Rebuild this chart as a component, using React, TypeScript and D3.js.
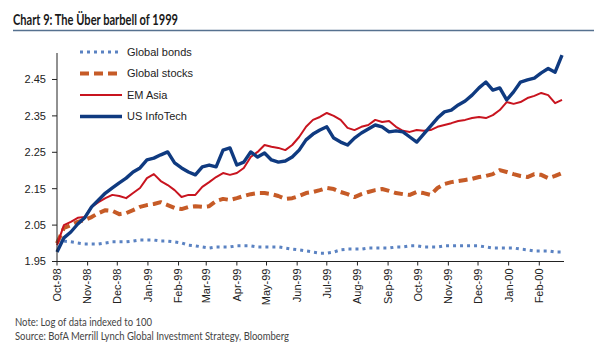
import { line, scaleLinear, scaleTime, timeDay, timeParse } from 'd3'

const chartWidth = 608
const chartHeight = 361

const plot = { left: 57, right: 564, top: 54, bottom: 261.5 }

const startDate = new Date(1998, 9, 1)
const endDate = new Date(2000, 1, 26)

const monthLabels = [
  'Oct-98', 'Nov-98', 'Dec-98', 'Jan-99', 'Feb-99', 'Mar-99', 'Apr-99', 'May-99', 'Jun-99',
  'Jul-99', 'Aug-99', 'Sep-99', 'Oct-99', 'Nov-99', 'Dec-99', 'Jan-00', 'Feb-00',
]

const yTickValues = [1.95, 2.05, 2.15, 2.25, 2.35, 2.45]

// weekly readings, log of data indexed to 100
const globalBonds = [
  2.009, 2.006, 2.004, 2.001, 1.998, 1.998, 1.998, 2.001, 2.004, 2.004, 2.004, 2.006, 2.009, 2.009,
  2.009, 2.006, 2.006, 2.004, 2.001, 1.995, 1.993, 1.99, 1.987, 1.99, 1.99, 1.99, 1.993, 1.993,
  1.993, 1.99, 1.99, 1.99, 1.99, 1.987, 1.984, 1.982, 1.979, 1.976, 1.973, 1.973, 1.976, 1.982,
  1.984, 1.984, 1.984, 1.987, 1.987, 1.987, 1.987, 1.99, 1.99, 1.993, 1.993, 1.99, 1.99, 1.99,
  1.993, 1.993, 1.993, 1.993, 1.993, 1.993, 1.99, 1.987, 1.987, 1.987, 1.987, 1.984, 1.982, 1.979,
  1.979, 1.979, 1.976, 1.976,
]

const globalStocks = [
  2.0, 2.042, 2.05, 2.059, 2.064, 2.072, 2.083, 2.091, 2.089, 2.08, 2.083, 2.091, 2.1, 2.105,
  2.108, 2.113, 2.105, 2.097, 2.094, 2.1, 2.102, 2.1, 2.102, 2.116, 2.122, 2.119, 2.124, 2.13,
  2.135, 2.138, 2.138, 2.135, 2.13, 2.122, 2.124, 2.13, 2.138, 2.141, 2.146, 2.152, 2.149, 2.141,
  2.135, 2.127, 2.135, 2.141, 2.146, 2.149, 2.144, 2.138, 2.135, 2.133, 2.141, 2.138, 2.133, 2.152,
  2.163, 2.168, 2.171, 2.174, 2.177, 2.182, 2.185, 2.19, 2.201, 2.196, 2.19, 2.185, 2.182, 2.19,
  2.188, 2.179, 2.185, 2.193,
]

const emAsia = [
  1.995, 2.05, 2.059, 2.07, 2.072, 2.1, 2.113, 2.124, 2.133, 2.13, 2.124, 2.138, 2.152, 2.179,
  2.19, 2.171, 2.16, 2.146, 2.127, 2.133, 2.133, 2.155, 2.168, 2.182, 2.193, 2.188, 2.193, 2.207,
  2.237, 2.251, 2.27, 2.265, 2.262, 2.256, 2.27, 2.292, 2.32, 2.339, 2.347, 2.358, 2.35, 2.339,
  2.317, 2.311, 2.32, 2.325, 2.339, 2.333, 2.336, 2.32, 2.309, 2.306, 2.311, 2.309, 2.311, 2.32,
  2.325, 2.33, 2.336, 2.339, 2.344, 2.347, 2.344, 2.352, 2.366, 2.388, 2.383, 2.388, 2.399, 2.405,
  2.413, 2.407, 2.385, 2.394,
]

const usInfoTech = [
  1.976, 2.015, 2.031, 2.053, 2.07, 2.1, 2.119, 2.138, 2.152, 2.166, 2.179, 2.196, 2.207, 2.229,
  2.234, 2.243, 2.251, 2.221, 2.207, 2.196, 2.188, 2.21, 2.215, 2.21, 2.256, 2.262, 2.215, 2.223,
  2.251, 2.237, 2.248, 2.229, 2.223, 2.226, 2.237, 2.256, 2.284, 2.3, 2.311, 2.32, 2.289, 2.278,
  2.27, 2.289, 2.303, 2.314, 2.325, 2.32, 2.306, 2.309, 2.306, 2.292, 2.278, 2.3, 2.322, 2.344,
  2.361, 2.366, 2.38, 2.391, 2.407, 2.427, 2.443, 2.421, 2.427, 2.394, 2.416, 2.443, 2.449, 2.454,
  2.468, 2.48, 2.47, 2.517,
]

type Series = {
  name: string
  values: number[]
  color: string
  width: number
  dash?: string
}

const series: Series[] = [
  { name: 'Global bonds', values: globalBonds, color: '#5a82c2', width: 3, dash: '3 4' },
  { name: 'Global stocks', values: globalStocks, color: '#c65b27', width: 4, dash: '9 5' },
  { name: 'EM Asia', values: emAsia, color: '#c8141f', width: 2 },
  { name: 'US InfoTech', values: usInfoTech, color: '#0f3a80', width: 3.4 },
]

const sansFont = '"Liberation Sans", Arial, sans-serif'
const noteFont = 'Lato, "Open Sans", sans-serif'

function App() {
  const xScale = scaleTime().domain([startDate, endDate]).range([plot.left, plot.right])
  const yScale = scaleLinear().domain([1.95, 2.52]).range([plot.bottom, plot.top])

  const parseMonth = timeParse('%b-%y')
  const monthTicks = monthLabels.map((label) => ({ label, date: parseMonth(label) as Date }))

  const weekDate = (index: number) => timeDay.offset(startDate, index * 7)

  const seriesLine = line<number>()
    .x((_, index) => xScale(weekDate(index)))
    .y((value) => yScale(value))

  return (
    <svg
      width={chartWidth}
      height={chartHeight}
      style={{ position: 'absolute', left: 0, top: 0, background: '#ffffff' }}
    >
      <text
        x={13}
        y={25}
        fontFamily={noteFont}
        fontWeight="bold"
        fontSize={14.5}
        fill="#1a1a1a"
        textLength={165}
        lengthAdjust="spacingAndGlyphs"
      >
        Chart 9: The Über barbell of 1999
      </text>
      <line x1={13} y1={30.5} x2={594} y2={30.5} stroke="#56718f" strokeWidth={1.5} />

      {yTickValues.map((tick) => (
        <g key={`y-${tick}`}>
          <line x1={plot.left - 5} x2={plot.left} y1={yScale(tick)} y2={yScale(tick)} stroke="#222" />
          <text
            x={46}
            y={yScale(tick)}
            dy="0.35em"
            textAnchor="end"
            fontFamily={sansFont}
            fontSize={11}
            fill="#222"
          >
            {tick.toFixed(2)}
          </text>
        </g>
      ))}

      {monthTicks.map((tick) => {
        const x = xScale(tick.date)
        return (
          <g key={tick.label}>
            <line x1={x} x2={x} y1={plot.bottom} y2={plot.bottom + 4} stroke="#222" />
            <text
              transform={`translate(${x}, ${plot.bottom + 7}) rotate(-90)`}
              dy="0.35em"
              textAnchor="end"
              fontFamily={sansFont}
              fontSize={11}
              fill="#222"
            >
              {tick.label}
            </text>
          </g>
        )
      })}

      {series.map((s) => (
        <path
          key={s.name}
          d={seriesLine(s.values) ?? ''}
          fill="none"
          stroke={s.color}
          strokeWidth={s.width}
          strokeDasharray={s.dash}
          strokeLinejoin="round"
        />
      ))}

      <line x1={plot.left} x2={plot.left} y1={53} y2={plot.bottom} stroke="#222" />
      <line x1={plot.left} x2={plot.right} y1={plot.bottom} y2={plot.bottom} stroke="#222" />

      {series.map((s, index) => {
        const y = 52 + index * 21.5
        return (
          <g key={`legend-${s.name}`}>
            <line
              x1={80}
              x2={122}
              y1={y}
              y2={y}
              stroke={s.color}
              strokeWidth={s.width}
              strokeDasharray={s.dash}
            />
            <text x={127} y={y} dy="0.35em" fontFamily={sansFont} fontSize={11} fill="#222">
              {s.name}
            </text>
          </g>
        )
      })}

      <text
        x={15}
        y={326}
        fontFamily={noteFont}
        fontSize={10.5}
        fill="#444"
        textLength={137}
        lengthAdjust="spacingAndGlyphs"
      >
        Note: Log of data indexed to 100
      </text>
      <text
        x={15}
        y={340}
        fontFamily={noteFont}
        fontSize={10.5}
        fill="#444"
        textLength={274}
        lengthAdjust="spacingAndGlyphs"
      >
        Source: BofA Merrill Lynch Global Investment Strategy, Bloomberg
      </text>
    </svg>
  )
}

export default App
